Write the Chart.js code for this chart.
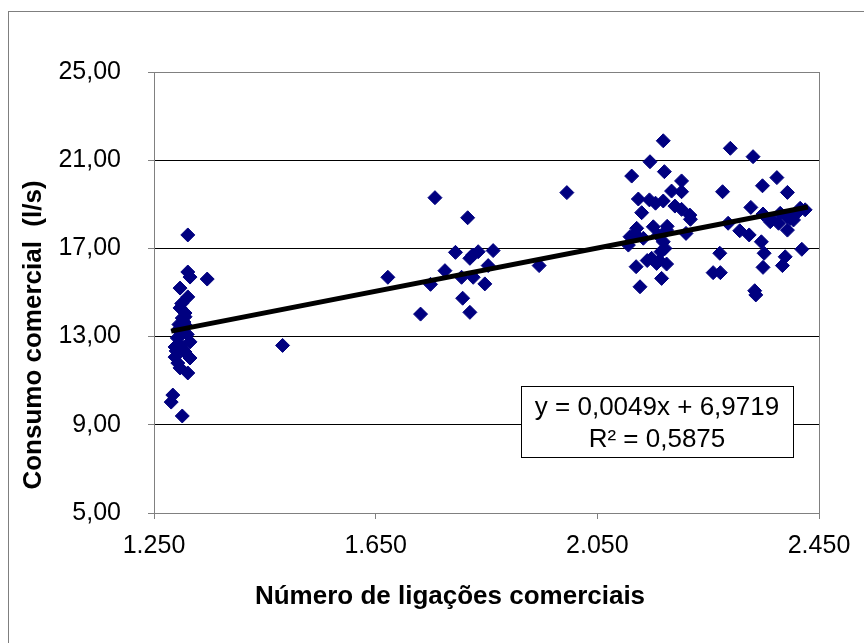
<!DOCTYPE html>
<html lang="pt">
<head>
<meta charset="UTF-8" />
<title>Consumo comercial x ligações</title>
<style>
    body { margin: 0; background: #ffffff; }
    #chart { display: block; }
</style>
</head>
<body>
<canvas id="chart" width="864" height="643"></canvas>

<script src="https://cdn.jsdelivr.net/npm/chart.js"></script>
<script>
    // número de ligações comerciais (x) e consumo comercial em l/s (y)
    const ligacoes = [
        1311, 1311, 1315, 1346, 1297, 1311, 1297, 1306, 1301, 1304, 1308, 1293, 1302,
        1292, 1315, 1288, 1306, 1288, 1315, 1293, 1297, 1311, 1284, 1281, 1301,
        1300, 1306, 1295, 1310, 1299, 1290,
        1482,
        1672, 1757, 1731, 1749, 1775, 1794, 1816, 1805, 1807, 1820, 1820, 1835, 1826,
        1847, 1853, 1862, 1825, 1945, 1995,
        2169, 2145, 2112, 2171, 2202, 2184, 2202, 2124, 2144, 2169, 2190, 2130, 2202,
        2217, 2218, 2121, 2151, 2175, 2210, 2109, 2133, 2106, 2169, 2172, 2148, 2157,
        2175, 2120, 2166, 2127, 2118, 2160, 2165, 2140, 2162, 2176, 2155,
        2290, 2331, 2374, 2348, 2393, 2276, 2327, 2349, 2365, 2380, 2392, 2416, 2404,
        2393, 2286, 2307, 2324, 2346, 2351, 2271, 2419, 2389, 2384, 2349, 2259, 2272,
        2334, 2336, 2362, 2377, 2398, 2410, 2425
    ];
    const consumo = [
        17.61, 15.93, 15.70, 15.61, 15.20, 14.80, 14.30, 14.07, 13.84, 13.66, 13.48, 13.30, 13.16,
        12.94, 12.76, 12.53, 12.30, 12.07, 12.03, 11.80, 11.58, 11.35, 10.35, 10.03, 9.40,
        14.50, 13.90, 13.55, 13.10, 12.60, 12.35,
        12.60,
        15.69, 19.30, 14.02, 15.37, 15.99, 16.82, 18.39, 15.69, 14.74, 14.10, 16.55, 16.85, 15.69,
        15.39, 16.22, 16.90, 16.70, 16.22, 19.53,
        21.88, 20.93, 20.28, 20.48, 20.06, 19.60, 19.57, 19.24, 19.20, 19.15, 18.92, 18.62, 18.77,
        18.51, 18.32, 17.91, 17.98, 17.83, 17.68, 17.53, 17.46, 17.15, 17.30, 17.00, 16.55, 16.32,
        16.29, 16.17, 15.64, 15.26, 17.65, 17.60, 16.85, 16.45, 16.45, 18.00, 19.05,
        21.54, 21.16, 20.21, 19.84, 19.54, 19.57, 18.86, 18.56, 18.29, 18.59, 18.44, 18.82, 18.29,
        17.83, 18.14, 17.80, 17.61, 17.30, 16.78, 16.78, 16.96, 16.62, 16.22, 16.14, 15.90, 15.90,
        15.08, 14.89, 18.21, 18.14, 18.36, 18.60, 18.75
    ];

    // linha de tendência: extremos
    const tendenciaX = [1281, 2430];
    const tendenciaY = [13.25, 18.88];

    const equacao = ["y = 0,0049x + 6,9719", "R² = 0,5875"];
    const tituloX = "Número de ligações comerciais";
    const tituloY = "Consumo comercial  (l/s)";

    const yTicks = [5, 9, 13, 17, 21, 25];
    const xTicks = [1250, 1650, 2050, 2450];

    const fonte = "'Liberation Sans', Arial, sans-serif";

    const pontos = ligacoes.map((x, i) => ({ x: x, y: consumo[i] }));
    const tendencia = tendenciaX.map((x, i) => ({ x: x, y: tendenciaY[i] }));

    // moldura externa, borda da área de plotagem, caixa da equação e títulos
    const extras = {
        id: "extras",
        beforeDatasetsDraw(chart) {
            const { ctx, chartArea: a } = chart;
            ctx.save();
            ctx.strokeStyle = "#808080";
            ctx.lineWidth = 1;
            ctx.strokeRect(a.left + 0.5, a.top + 0.5, a.right - a.left, a.bottom - a.top);
            ctx.restore();
        },
        afterDraw(chart) {
            const { ctx } = chart;
            ctx.save();
            // moldura do gráfico
            ctx.strokeStyle = "#7f7f7f";
            ctx.lineWidth = 1;
            ctx.strokeRect(8.5, 11.5, 900, 700);

            // caixa da equação
            ctx.fillStyle = "#ffffff";
            ctx.fillRect(521, 386, 272, 71);
            ctx.strokeStyle = "#000000";
            ctx.strokeRect(521.5, 386.5, 272, 71);
            ctx.fillStyle = "#000000";
            ctx.font = "26px " + fonte;
            ctx.textAlign = "center";
            ctx.textBaseline = "middle";
            ctx.fillText(equacao[0], 657, 408);
            ctx.fillText(equacao[1], 657, 440);

            // títulos dos eixos
            ctx.font = "bold 26px " + fonte;
            ctx.fillText(tituloX, 450, 597);
            ctx.translate(34, 335);
            ctx.rotate(-Math.PI / 2);
            ctx.fillText(tituloY, 0, 0);
            ctx.restore();
        }
    };

    new Chart(document.getElementById("chart"), {
        type: "scatter",
        data: {
            datasets: [
                {
                    data: tendencia,
                    showLine: true,
                    borderColor: "#000000",
                    borderWidth: 5,
                    pointRadius: 0,
                    order: 0
                },
                {
                    data: pontos,
                    pointStyle: "rectRot",
                    pointRadius: 7,
                    backgroundColor: "#000080",
                    borderColor: "#000080",
                    borderWidth: 1,
                    order: 1
                }
            ]
        },
        options: {
            responsive: false,
            animation: false,
            layout: { padding: { left: 0, top: 72, right: 45, bottom: 0 } },
            plugins: {
                legend: { display: false },
                tooltip: { enabled: false }
            },
            scales: {
                x: {
                    type: "linear",
                    min: 1250,
                    max: 2450,
                    afterBuildTicks: s => { s.ticks = xTicks.map(v => ({ value: v })); },
                    afterFit: s => { s.height = 130; },
                    grid: {
                        drawOnChartArea: false,
                        tickLength: 6,
                        tickColor: "#808080"
                    },
                    border: { color: "#808080" },
                    ticks: {
                        padding: 12,
                        color: "#000000",
                        font: { family: fonte, size: 25 },
                        callback: v => v.toLocaleString("pt-BR")
                    }
                },
                y: {
                    type: "linear",
                    min: 5,
                    max: 25,
                    afterBuildTicks: s => { s.ticks = yTicks.map(v => ({ value: v })); },
                    afterFit: s => { s.width = 154; },
                    grid: {
                        color: c => (c.tick.value === 5 || c.tick.value === 25) ? "#808080" : "#000000",
                        tickLength: 6,
                        tickColor: "#808080"
                    },
                    border: { color: "#808080" },
                    ticks: {
                        padding: 27,
                        color: "#000000",
                        font: { family: fonte, size: 25 },
                        callback: v => v.toFixed(2).replace(".", ",")
                    }
                }
            }
        },
        plugins: [extras]
    });
</script>
</body>
</html>
